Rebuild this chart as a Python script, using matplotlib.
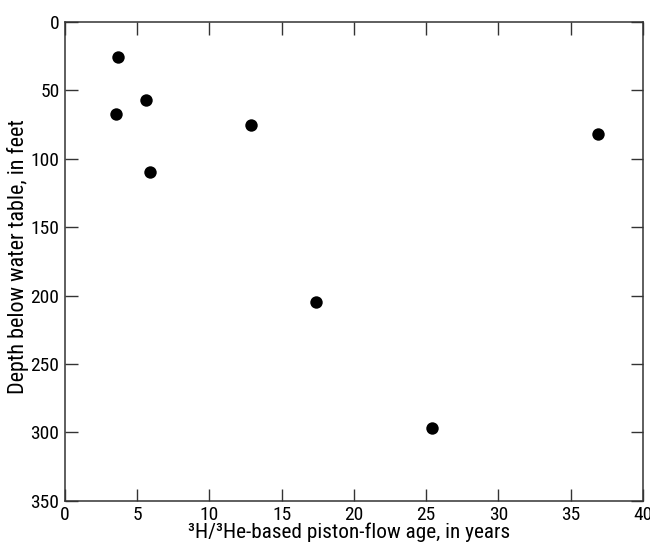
import matplotlib
matplotlib.use("Agg")
import matplotlib.pyplot as plt
from matplotlib import font_manager
from matplotlib.font_manager import FontProperties

age_years = [3.7, 5.6, 3.5, 5.9, 12.9, 36.9, 17.4, 25.4]
depth_feet = [26, 57, 67, 110, 75, 82, 205, 297]
x_ticks = [0, 5, 10, 15, 20, 25, 30, 35, 40]
y_ticks = [0, 50, 100, 150, 200, 250, 300, 350]

# find a condensed / narrow regular face if available
cands = []
for f in font_manager.fontManager.ttflist:
    fn = f.fname.lower()
    if ('narrow' in fn or 'condensed' in fn) and 'bold' not in fn and 'italic' not in fn \
            and 'semi' not in fn and 'extra' not in fn and 'light' not in fn and 'medium' not in fn \
            and 'thin' not in fn and 'black' not in fn and 'cjk' not in fn:
        cands.append(f.fname)
cands.sort(key=lambda p: (0 if 'liberation' in p.lower() else 1 if 'roboto' in p.lower() else 2, len(p)))
if cands:
    fp_kw = dict(fname=cands[0])
    tsize, xlsize, ylsize = 14, 15.3, 15.9
else:
    fp_kw = dict(family=['Roboto', 'DejaVu Sans'])
    tsize, xlsize, ylsize = 12.5, 13, 13

def fp(size):
    return FontProperties(size=size, **fp_kw)

fig = plt.figure(figsize=(6.5, 5.48), dpi=100)
ax = fig.add_axes([0.1, 0.086, 0.889, 0.874])
ax.scatter(age_years, depth_feet, s=80, color='black', zorder=3, linewidths=0)
ax.set_xlim(0, 40)
ax.set_ylim(350, 0)
ax.set_xticks(x_ticks)
ax.set_yticks(y_ticks)
ax.tick_params(direction='in', length=9, width=1, top=True, right=True,
               pad=4, color='#333333')
for lab in ax.get_xticklabels() + ax.get_yticklabels():
    lab.set_fontproperties(fp(tsize))
for s in ax.spines.values():
    s.set_color('#333333')
    s.set_linewidth(1.1)
ax.set_xlabel('³H/³He-based piston-flow age, in years', fontproperties=fp(xlsize))
ax.set_ylabel('Depth below water table, in feet', fontproperties=fp(ylsize))
ax.xaxis.set_label_coords(0.492, -0.046)
ax.yaxis.set_label_coords(-0.062, 0.51)
fig.savefig('out.png', dpi=100)
